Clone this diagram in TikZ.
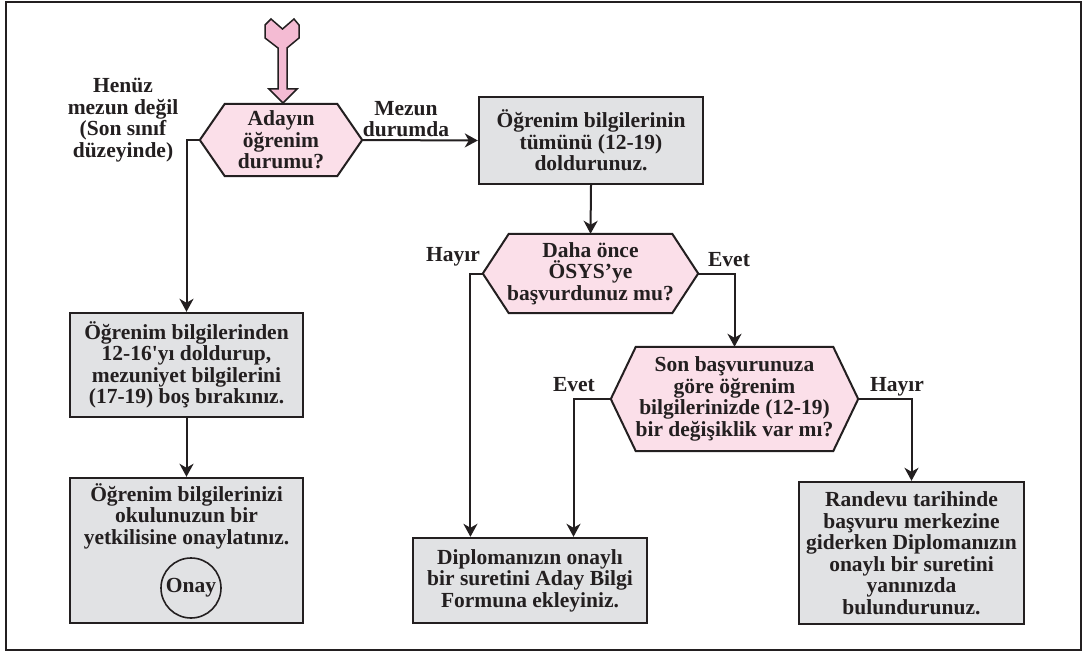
\documentclass[tikz,border=0pt]{standalone}
\usepackage{fontspec}
\setmainfont{Liberation Serif}[Ligatures=TeXOff]
\usetikzlibrary{arrows.meta,calc,backgrounds}
\definecolor{ink}{HTML}{231F20}
\definecolor{boxgray}{HTML}{E1E2E4}
\definecolor{hexpink}{HTML}{FBDFE9}
\definecolor{arrowpink}{HTML}{F4BBD3}
\newcommand\hexdraw[2]{\draw[hexshape] ([xshift=#2]#1.north west) -- ([xshift=-#2]#1.north east) -- (#1.east) -- ([xshift=-#2]#1.south east) -- ([xshift=#2]#1.south west) -- (#1.west) -- cycle;}
\begin{document}
\begin{tikzpicture}[x=1pt,y=-1pt,
  txt/.style={font=\bfseries\fontsize{21.5pt}{21.5pt}\selectfont, text=ink, align=center, inner sep=0pt},
  stepbox/.style={txt, draw=ink, line width=2.4pt, fill=boxgray},
  hexnode/.style={txt},
  hexshape/.style={draw=ink, line width=2pt, fill=hexpink, line join=miter},
  conn/.style={draw=ink, line width=2pt, -{Stealth[length=13pt,width=14pt,inset=4pt]}},
  lbl/.style={txt}]
\useasboundingbox (0,0) rectangle (1086,652);

% boxes
\node[stepbox, minimum width=224pt, minimum height=87pt] (b1) at (591,140.5) {Öğrenim bilgilerinin\\tümünü (12-19)\\doldurunuz.};
\node[stepbox, minimum width=233pt, minimum height=104pt] (b2) at (186.5,365) {Öğrenim bilgilerinden\\12-16'yı doldurup,\\mezuniyet bilgilerini\\(17-19) boş bırakınız.};
\node[stepbox, minimum width=233pt, minimum height=145pt] (b3) at (186.5,550.5) {};
\node[txt] (b3t) at (186.5,516) {Öğrenim bilgilerinizi\\okulunuzun bir\\yetkilisine onaylatınız.};
\node[txt, circle, draw=ink, line width=1.6pt, minimum size=60pt] (onay) at (191,588) {Onay};
\node[stepbox, minimum width=234pt, minimum height=85pt] (b4) at (530,580.5) {Diplomanızın onaylı\\bir suretini Aday Bilgi\\Formuna ekleyiniz.};
\node[stepbox, minimum width=225pt, minimum height=142pt] (b5) at (911.5,553) {Randevu tarihinde\\başvuru merkezine\\giderken Diplomanızın\\onaylı bir suretini\\yanınızda\\bulundurunuz.};

% decision hexagons
\node[hexnode, minimum width=162pt, minimum height=72pt] (h1) at (281,140) {Adayın\\öğrenim\\durumu?};
\node[hexnode, minimum width=215pt, minimum height=79pt] (h2) at (590.5,273.5) {Daha önce\\ÖSYS’ye\\başvurdunuz mu?};
\node[hexnode, minimum width=247pt, minimum height=104pt] (h3) at (734.5,399) {Son başvurunuza\\göre öğrenim\\bilgilerinizde (12-19)\\bir değişiklik var mı?};
\begin{scope}[on background layer]
\fill[white] (0,0) rectangle (1086,652);
\draw[ink, line width=2pt] (6,2) rectangle (1081,650);
\hexdraw{h1}{25pt}
\hexdraw{h2}{26pt}
\hexdraw{h3}{25pt}
\end{scope}

% entry arrow
\draw[draw=ink, line width=1.5pt, fill=arrowpink, line join=miter]
  (265,25) -- (271,19) -- (282.5,29) -- (294,19) -- (299,25) -- (299,38) -- (287,48)
  -- (287,89) -- (297,89) -- (283,103) -- (269,89) -- (278,89) -- (278,48)
  -- (265,38) -- cycle;

% labels
\node[lbl] (lnot) at (123,120) {Henüz\\mezun değil\\(Son sınıf\\düzeyinde)};
\node[lbl] (lmez) at (406,119) {Mezun\\durumda};
\node[lbl] (lh2n) at (453,257) {Hayır};
\node[lbl] (lh2y) at (729,260) {Evet};
\node[lbl] (lh3y) at (574,385) {Evet};
\node[lbl] (lh3n) at (897,387) {Hayır};

% connectors
\draw[conn] (h1.east) -- (b1.west);
\draw[conn] (h1.west) -| (b2.north);
\draw[conn] (b2.south) -- (b3.north);
\draw[conn] (b1.south) -- (h2.north);
\draw[conn] (h2.west) -| ($(b4.north west)!0.248!(b4.north east)$);
\draw[conn] (h2.east) -| (h3.north);
\draw[conn] (h3.west) -| ($(b4.north west)!0.684!(b4.north east)$);
\draw[conn] (h3.east) -| (b5.north);
\end{tikzpicture}
\end{document}
